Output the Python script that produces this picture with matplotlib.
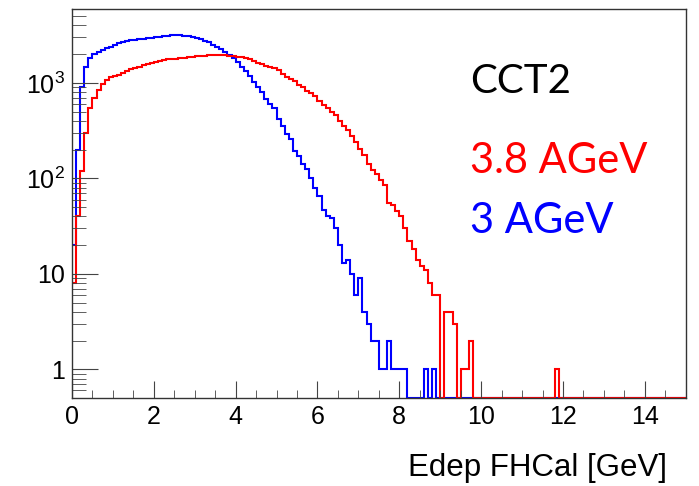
import numpy as np
import matplotlib.pyplot as plt
from matplotlib.ticker import FixedLocator, MultipleLocator, FixedFormatter

# --- Data (counts per 0.1 GeV bin) ---
bin_width = 0.1
x_min, x_max = 0.0, 15.0

# 3 AGeV (blue), bins starting at 0.0
counts_3agev = [
    20, 200, 900, 1450, 1800, 2000, 2100, 2200, 2300, 2400,
    2500, 2600, 2680, 2720, 2780, 2820, 2850, 2880, 2920, 2960,
    3000, 3050, 3080, 3120, 3160, 3180, 3150, 3120, 3080, 3000,
    2950, 2850, 2750, 2650, 2500, 2400, 2250, 2100, 1950, 1800,
    1650, 1480, 1330, 1180, 1030, 910, 800, 680, 600, 540,
    420, 350, 290, 260, 195, 170, 140, 125, 100, 80,
    65, 47, 40, 38, 30, 20, 13, 14, 10, 6,
    9, 4, 3, 2, 2, 1, 1, 2, 1, 1,
    1, 1, 0, 0, 0, 0, 1, 0, 1, 0,
]

# 3.8 AGeV (red), bins starting at 0.0
counts_38agev = [
    8, 40, 120, 300, 550, 700, 850, 970, 1070, 1140,
    1180, 1220, 1280, 1340, 1380, 1430, 1480, 1530, 1570, 1610,
    1660, 1700, 1740, 1760, 1780, 1790, 1810, 1830, 1850, 1870,
    1890, 1920, 1930, 1950, 1950, 1960, 1950, 1940, 1920, 1900,
    1880, 1860, 1820, 1760, 1680, 1600, 1560, 1510, 1470, 1420,
    1360, 1250, 1150, 1100, 1050, 960, 900, 830, 780, 720,
    650, 590, 540, 500, 460, 400, 350, 320, 280, 240,
    205, 175, 140, 122, 110, 95, 85, 55, 52, 45,
    40, 30, 22, 18, 14, 12, 11, 8, 6, 6,
    0, 4, 4, 3, 0, 1, 1, 2, 0, 0,
    0, 0, 0, 0, 0, 0, 0, 0, 0, 0,
    0, 0, 0, 0, 0, 0, 0, 0, 1, 0,
]

labels = ["3 AGeV", "3.8 AGeV"]
colors = ["#0000ff", "#ff0000"]
y_bottom, y_top = 0.5, 5900

edges = np.arange(x_min, x_max + bin_width / 2, bin_width)
n_bins = len(edges) - 1


def full_hist(counts):
    vals = np.zeros(n_bins)
    vals[: len(counts)] = counts
    # empty bins are drawn on the frame bottom, like ROOT does on log scale
    vals[vals <= 0] = y_bottom * 1.01
    return vals


# --- Plotting ---
plt.rcParams["font.family"] = ["Liberation Sans", "DejaVu Sans"]
fig = plt.figure(figsize=(6.99, 4.86), dpi=100)
ax = fig.add_axes([0.103, 0.181, 0.878, 0.800])

for counts, color in zip([counts_3agev, counts_38agev], colors):
    ax.stairs(full_hist(counts), edges, color=color, linewidth=1.5,
              baseline=None)

ax.set_yscale("log")
ax.set_xlim(x_min, x_max)
ax.set_ylim(y_bottom, y_top)

ax.xaxis.set_major_locator(MultipleLocator(2))
ax.xaxis.set_minor_locator(MultipleLocator(0.5))
ax.yaxis.set_major_locator(FixedLocator([1, 10, 100, 1000]))
ax.yaxis.set_major_formatter(FixedFormatter(
    ["1", "10", r"$\mathregular{10^{2}}$", r"$\mathregular{10^{3}}$"]))
minor_y = [m * 10.0 ** e for e in range(-1, 4) for m in range(2, 10)]
ax.yaxis.set_minor_locator(FixedLocator(minor_y))
ax.yaxis.set_minor_formatter(FixedFormatter([""] * len(minor_y)))

ax.tick_params(axis="both", which="both", direction="in", top=False,
               right=False, labelsize=18, color="#444444")
ax.tick_params(axis="x", which="major", length=12, pad=5)
ax.tick_params(axis="x", which="minor", length=6)
ax.tick_params(axis="y", which="major", length=19, pad=5)
ax.tick_params(axis="y", which="minor", length=10)
for spine in ax.spines.values():
    spine.set_linewidth(1.0)
    spine.set_color("#333333")

fig.text(0.954, 0.037, "Edep FHCal [GeV]", ha="right", va="center",
         fontsize=22.5)

ax.text(0.648, 0.815, "CCT2", transform=ax.transAxes, fontsize=29,
        family="Lato", color="black", va="center")
ax.text(0.648, 0.61, labels[1], transform=ax.transAxes, fontsize=30,
        family="Lato", color=colors[1], va="center")
ax.text(0.648, 0.455, labels[0], transform=ax.transAxes, fontsize=30,
        family="Lato", color=colors[0], va="center")

plt.savefig("out.png", dpi=100)
